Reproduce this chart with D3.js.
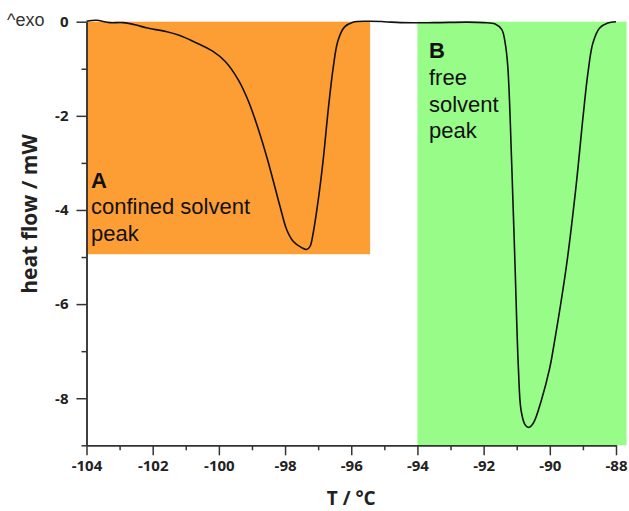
<!DOCTYPE html>
<html>
<head>
<meta charset="utf-8">
<script src="https://cdn.jsdelivr.net/npm/d3@7"></script>
<style>
  body { margin: 0; background: #fff; }
  svg { display: block; }
  .tick text { font-family: "Open Sans", sans-serif; font-weight: 700; font-size: 15px; fill: #222; }
  .note { font-family: "Liberation Sans", Arial, sans-serif; font-size: 22px; fill: #111; }
</style>
</head>
<body>
<svg id="chart"></svg>
<script>
// DSC curve: temperature (°C) and heat flow (mW)
const temps = [-104.0, -103.7, -103.3, -102.9, -102.5, -102.2, -101.6, -101.2, -100.8, -100.2,
  -99.8, -99.4, -99.1, -98.8, -98.55, -98.35, -98.15, -97.95, -97.75, -97.5,
  -97.35, -97.25, -97.15, -97.0, -96.85, -96.7, -96.55, -96.4, -96.2, -95.95,
  -95.5, -95.0, -94.5, -93.5, -92.5, -92.0, -91.65, -91.45, -91.35, -91.27,
  -91.15, -91.05, -90.95, -90.87, -90.75, -90.65, -90.5, -90.25, -90.0, -89.9,
  -89.5, -89.2, -89.0, -88.85, -88.7, -88.5, -88.25, -88.0];
const heatFlow = [0.01, 0.03, -0.02, -0.02, -0.07, -0.13, -0.21, -0.29, -0.41, -0.62,
  -0.85, -1.25, -1.7, -2.3, -2.88, -3.4, -3.93, -4.42, -4.67, -4.8,
  -4.84, -4.78, -4.49, -3.8, -2.95, -1.9, -1.0, -0.4, -0.11, -0.01,
  0.01, 0.0, -0.02, -0.02, -0.01, -0.02, -0.05, -0.17, -0.45, -0.95,
  -3.05, -5.2, -7.35, -8.25, -8.56, -8.62, -8.53, -8.03, -7.35, -6.97,
  -5.2, -3.45, -2.05, -1.1, -0.46, -0.14, -0.03, 0.0];

// shaded regions: [x0, x1, y0, y1] in data units
const regionA = [-104, -95.43, -4.94, 0];
const regionB = [-94, -87.68, -9, 0];

const xMajor = [-104, -102, -100, -98, -96, -94, -92, -90, -88];
const xMinor = [-103, -101, -99, -97, -95, -93, -91, -89];
const yMajor = [0, -2, -4, -6, -8];
const yMinor = [-1, -3, -5, -7, -9];

const width = 629, height = 511;
const svg = d3.select("#chart").attr("width", width).attr("height", height);

const x = d3.scaleLinear().domain([-104, -88]).range([86.5, 616]);
const y = d3.scaleLinear().domain([-9, 0]).range([445.3, 21.7]);

// background boxes
function box(r, color) {
  svg.append("rect")
    .attr("x", x(r[0]))
    .attr("y", y(r[3]))
    .attr("width", x(r[1]) - x(r[0]))
    .attr("height", y(r[2]) - y(r[3]))
    .attr("fill", color);
}
box(regionA, "#fd9e35");
box(regionB, "#98fc89");

// axes
const axisColor = "#333";
function styleAxis(g) {
  g.selectAll("path, line").attr("stroke", axisColor).attr("stroke-width", 1.5);
}

svg.append("g")
  .attr("transform", `translate(0,${y(-9)})`)
  .call(d3.axisBottom(x).tickValues(xMinor).tickSize(5).tickSizeOuter(0).tickFormat(""))
  .call(styleAxis);
svg.append("g")
  .attr("transform", `translate(0,${y(-9)})`)
  .call(d3.axisBottom(x).tickValues(xMajor).tickSize(10).tickSizeOuter(0).tickPadding(5).tickFormat(d3.format("d")))
  .call(styleAxis);

svg.append("g")
  .attr("transform", `translate(${x(-104)},0)`)
  .call(d3.axisLeft(y).tickValues(yMinor).tickSize(5).tickSizeOuter(0).tickFormat(""))
  .call(styleAxis);
svg.append("g")
  .attr("transform", `translate(${x(-104)},0)`)
  .call(d3.axisLeft(y).tickValues(yMajor).tickSize(10).tickSizeOuter(0).tickPadding(8).tickFormat(d3.format("d")))
  .call(styleAxis);

// plain hyphen instead of the unicode minus, like the original
svg.selectAll(".tick text").text(function() { return this.textContent.replace("\u2212", "-"); });

// curve
const line = d3.line()
  .x((d, i) => x(temps[i]))
  .y((d, i) => y(heatFlow[i]))
  .curve(d3.curveCatmullRom.alpha(0.5));

svg.append("path")
  .attr("d", line(temps))
  .attr("fill", "none")
  .attr("stroke", "#111")
  .attr("stroke-width", 1.6);

// axis titles
svg.append("text")
  .attr("x", (x(-104) + x(-88)) / 2)
  .attr("y", 505)
  .attr("text-anchor", "middle")
  .style("font-family", "Open Sans, sans-serif")
  .style("font-weight", 700)
  .style("font-size", "19px")
  .style("fill", "#222")
  .text("T / °C");

svg.append("text")
  .attr("transform", "translate(37,214) rotate(-90)")
  .attr("text-anchor", "middle")
  .style("font-family", "Open Sans, sans-serif")
  .style("font-weight", 700)
  .style("font-size", "21px")
  .style("fill", "#222")
  .text("heat flow / mW");

svg.append("text")
  .attr("x", 7)
  .attr("y", 26)
  .style("font-family", "Liberation Sans, Arial, sans-serif")
  .style("font-size", "18px")
  .style("fill", "#333")
  .text("^exo");

// region labels
function label(lines, x0, y0) {
  lines.forEach((t, i) => {
    svg.append("text")
      .attr("class", "note")
      .attr("x", x0)
      .attr("y", y0 + i * 26.6)
      .style("font-weight", i === 0 ? 700 : 400)
      .text(t);
  });
}
label(["A", "confined solvent", "peak"], 91, 187.7);
label(["B", "free", "solvent", "peak"], 429, 58.3);
</script>
</body>
</html>
